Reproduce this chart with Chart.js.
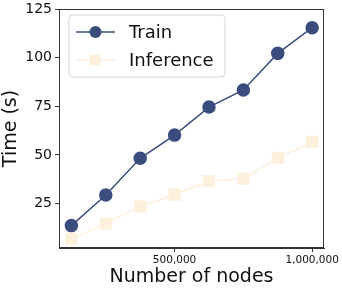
<!DOCTYPE html>
<html>
<head>
<meta charset="utf-8">
<script src="https://cdn.jsdelivr.net/npm/chart.js@4/dist/chart.umd.min.js"></script>
<style>
html,body{margin:0;padding:0;background:#fff;}
#wrap{width:342px;height:288px;}
</style>
</head>
<body>
<div id="wrap"><canvas id="c" width="342" height="288"></canvas></div>
<script>
const nodes = [125000, 250000, 375000, 500000, 625000, 750000, 875000, 1000000];
const trainTime = [13.7, 29.4, 48.3, 60.2, 74.6, 83.4, 102.2, 115.4];
const inferenceTime = [6.9, 14.7, 23.5, 29.6, 36.5, 37.8, 48.5, 56.8];
const xTicks = [500000, 1000000];
const yTicks = [25, 50, 75, 100, 125];
const seriesNames = ['Train', 'Inference'];

const trainColor = '#3a4d7d';
const infColor = '#fdf0dc';
const axisColor = '#333';
const FONT = 'DejaVu Sans';

const frame = {
  id: 'frame',
  afterDraw(chart) {
    const {ctx, chartArea: a} = chart;
    ctx.save();
    ctx.strokeStyle = axisColor;
    ctx.lineWidth = 1;
    ctx.strokeRect(Math.round(a.left) + 0.5, Math.round(a.top) + 0.5, Math.round(a.right - a.left) - 1, Math.round(a.bottom - a.top) - 1);
    ctx.restore();
  }
};

const legendBox = {
  id: 'legendBox',
  afterDatasetsDraw(chart) {
    const ctx = chart.ctx;
    ctx.save();
    const x = 69, y = 15, w = 156, h = 62, r = 4;
    ctx.beginPath();
    ctx.moveTo(x + r, y);
    ctx.arcTo(x + w, y, x + w, y + h, r);
    ctx.arcTo(x + w, y + h, x, y + h, r);
    ctx.arcTo(x, y + h, x, y, r);
    ctx.arcTo(x, y, x + w, y, r);
    ctx.closePath();
    ctx.fillStyle = 'rgba(255,255,255,0.85)';
    ctx.fill();
    ctx.strokeStyle = '#d6d6d6';
    ctx.lineWidth = 1;
    ctx.stroke();
    const rows = [
      {label: seriesNames[0], color: trainColor, style: 'circle', cy: 32},
      {label: seriesNames[1], color: infColor, style: 'rect', cy: 60}
    ];
    rows.forEach(row => {
      ctx.strokeStyle = row.color;
      ctx.lineWidth = 1.5;
      ctx.beginPath();
      ctx.moveTo(76, row.cy);
      ctx.lineTo(115, row.cy);
      ctx.stroke();
      ctx.fillStyle = row.color;
      if (row.style === 'circle') {
        ctx.beginPath();
        ctx.arc(95.5, row.cy, 6, 0, Math.PI * 2);
        ctx.fill();
      } else {
        ctx.fillRect(90, row.cy - 5.5, 11, 11);
      }
      ctx.fillStyle = '#111';
      ctx.font = '18px "' + FONT + '"';
      ctx.textBaseline = 'middle';
      ctx.textAlign = 'left';
      ctx.fillText(row.label, 129, row.cy + 1);
    });
    ctx.restore();
  }
};

new Chart(document.getElementById('c'), {
  type: 'line',
  data: {
    datasets: [
      {
        label: seriesNames[0],
        data: nodes.map((n, i) => ({x: n, y: trainTime[i]})),
        borderColor: trainColor,
        backgroundColor: trainColor,
        pointBackgroundColor: trainColor,
        pointBorderColor: trainColor,
        borderWidth: 1.5,
        pointRadius: 6,
        pointStyle: 'circle',
        order: 1
      },
      {
        label: seriesNames[1],
        data: nodes.map((n, i) => ({x: n, y: inferenceTime[i]})),
        borderColor: infColor,
        backgroundColor: infColor,
        pointBackgroundColor: infColor,
        pointBorderColor: infColor,
        borderWidth: 1.5,
        pointRadius: 7.5,
        pointStyle: 'rect',
        order: 2
      }
    ]
  },
  options: {
    responsive: false,
    animation: false,
    devicePixelRatio: 1,
    layout: {padding: {top: 4, right: 18, left: 0, bottom: 0}},
    plugins: {legend: {display: false}, tooltip: {enabled: false}},
    scales: {
      x: {
        type: 'linear',
        min: 80000,
        max: 1043000,
        afterBuildTicks: s => { s.ticks = xTicks.map(v => ({value: v})); },
        afterFit: s => { s.height = 40; s.paddingLeft = 0; s.paddingRight = 0; },
        ticks: {
          color: '#111',
          font: {family: FONT, size: 10.5},
          padding: 2,
          maxRotation: 0,
          callback: v => Number(v).toLocaleString('en-US')
        },
        grid: {drawOnChartArea: false, drawTicks: true, tickLength: 4, color: axisColor},
        border: {display: true, color: axisColor},
        title: {display: true, text: 'Number of nodes', color: '#111', font: {family: FONT, size: 19}, padding: 0}
      },
      y: {
        type: 'linear',
        min: 2.2,
        max: 125,
        afterBuildTicks: s => { s.ticks = yTicks.map(v => ({value: v})); },
        afterFit: s => { s.width = 59; s.paddingTop = 0; s.paddingBottom = 0; },
        ticks: {color: '#111', font: {family: FONT, size: 14}, padding: 3},
        grid: {drawOnChartArea: false, drawTicks: true, tickLength: 4, color: axisColor},
        border: {display: true, color: axisColor},
        title: {display: true, text: 'Time (s)', color: '#111', font: {family: FONT, size: 19}, padding: 0}
      }
    }
  },
  plugins: [frame, legendBox]
});
</script>
</body>
</html>
